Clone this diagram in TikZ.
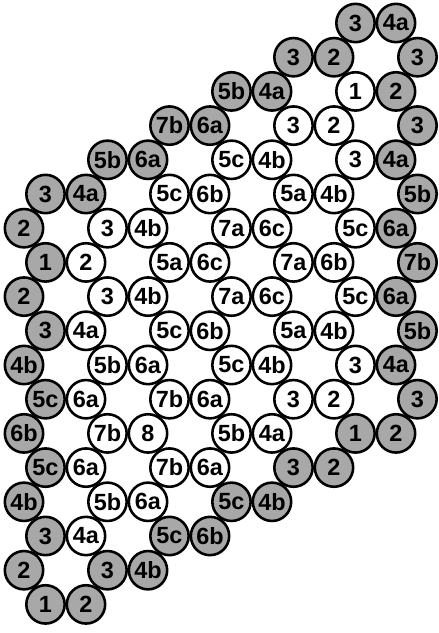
\documentclass[tikz,border=0pt]{standalone}
\usepackage{fontspec}
\setmainfont{Liberation Sans}
\definecolor{trama}{gray}{0.66}

\begin{document}
\begin{tikzpicture}[x=0.03cm, y=-0.03cm,
		sitio/.style={circle, draw=black, fill=white, line width=2.2pt, minimum size=1.15cm,
				inner sep=0pt, font=\fontsize{20}{20}\selectfont\bfseries},
		borde/.style={sitio, fill=trama}]
			\useasboundingbox (0,0) rectangle (438,633);

			% --- Sitios interiores (blancos) ---
			\foreach \k/\m/\lab in {2/11/1,
					3/9/3, 3/10/2,
					4/7/5c, 4/8/4b, 4/11/3,
					5/5/5c, 5/6/6b, 5/9/5a, 5/10/4b,
					6/3/3, 6/4/4b, 6/7/7a, 6/8/6c, 6/11/5c,
					7/2/2, 7/5/5a, 7/6/6c, 7/9/7a, 7/10/6b,
					8/3/3, 8/4/4b, 8/7/7a, 8/8/6c, 8/11/5c,
					9/2/4a, 9/5/5c, 9/6/6b, 9/9/5a, 9/10/4b,
					10/3/5b, 10/4/6a, 10/7/5c, 10/8/4b, 10/11/3,
					11/2/6a, 11/5/7b, 11/6/6a, 11/9/3, 11/10/2,
					12/3/7b, 12/4/8, 12/7/5b, 12/8/4a,
					13/2/6a, 13/5/7b, 13/6/6a,
					14/3/5b, 14/4/6a,
					15/2/4a}{
					\node[sitio] (s-\k-\m) at ({24+31*\m-9.5*mod(\m,2)}, {23+34.2*\k}) {\lab};
				}

			% --- Sitios del borde (sombreados) ---
			\foreach \k/\m/\lab in {0/11/3, 0/12/4a,
					1/9/3, 1/10/2, 1/13/3,
					2/7/5b, 2/8/4a, 2/12/2,
					3/5/7b, 3/6/6a, 3/13/3,
					4/3/5b, 4/4/6a, 4/12/4a,
					5/1/3, 5/2/4a, 5/13/5b,
					6/0/2, 6/12/6a,
					7/1/1, 7/13/7b,
					8/0/2, 8/12/6a,
					9/1/3, 9/13/5b,
					10/0/4b, 10/12/4a,
					11/1/5c, 11/13/3,
					12/0/6b, 12/11/1, 12/12/2,
					13/1/5c, 13/9/3, 13/10/2,
					14/0/4b, 14/7/5c, 14/8/4b,
					15/1/3, 15/5/5c, 15/6/6b,
					16/0/2, 16/3/3, 16/4/4b,
					17/1/1, 17/2/2}{
					\node[borde] (s-\k-\m) at ({24+31*\m-9.5*mod(\m,2)}, {23+34.2*\k}) {\lab};
				}
		\end{tikzpicture}
\end{document}
